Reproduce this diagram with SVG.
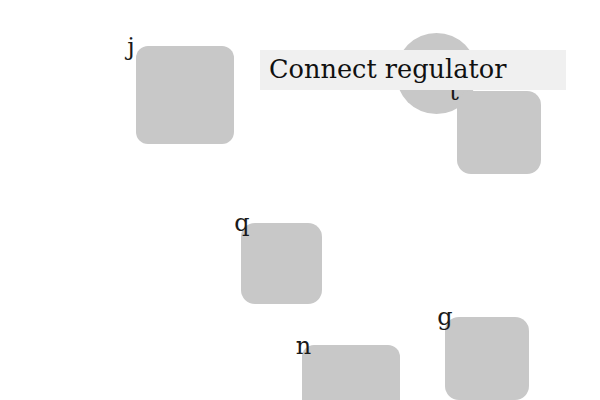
<svg xmlns="http://www.w3.org/2000/svg" width="600" height="400" viewBox="0 0 600 400">
  <style>
    .shape { fill: #c8c8c8; }
    .lbl { font-family: "DejaVu Serif", "Liberation Serif", serif; font-size: 24px; fill: #1a1a1a; text-anchor: middle; }
    .title { font-family: "DejaVu Serif", "Liberation Serif", serif; font-size: 25.6px; fill: #111111; }
  </style>
  <rect width="600" height="400" fill="#ffffff"/>
  <g id="connectors"></g>
  <g id="node-circle">
    <circle class="shape" cx="436.5" cy="73.5" r="40.5"/>
  </g>
  <g id="node-j">
    <rect class="shape" x="136" y="46" width="98" height="98" rx="12"/>
    <text class="lbl" x="131" y="55">j</text>
  </g>
  <g id="node-t">
    <rect class="shape" x="457" y="91" width="84" height="83" rx="14"/>
    <text class="lbl" x="454" y="100">t</text>
  </g>
  <g id="node-q">
    <rect class="shape" x="241" y="223" width="81" height="81" rx="14"/>
    <text class="lbl" x="242" y="231">q</text>
  </g>
  <g id="node-n">
    <rect class="shape" x="302" y="345" width="98" height="70" rx="12"/>
    <text class="lbl" x="303.5" y="354">n</text>
  </g>
  <g id="node-g">
    <rect class="shape" x="445" y="317" width="84" height="83" rx="14"/>
    <text class="lbl" x="445" y="325">g</text>
  </g>
  <g id="label-connect">
    <rect x="260" y="50" width="306" height="40" fill="#f0f0f0"/>
    <text class="title" x="269" y="78">Connect regulator</text>
  </g>
</svg>
